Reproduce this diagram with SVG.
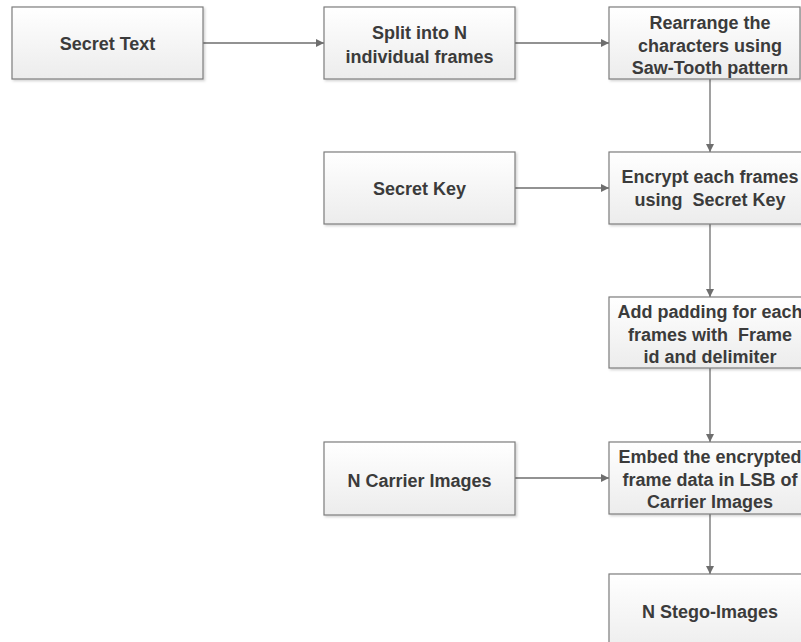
<svg xmlns="http://www.w3.org/2000/svg" width="801" height="642" viewBox="0 0 801 642">
  <defs>
    <linearGradient id="boxFill" x1="0" y1="0" x2="0" y2="1">
      <stop offset="0" stop-color="#ffffff"/>
      <stop offset="1" stop-color="#ececec"/>
    </linearGradient>
    <filter id="shadow" x="-5%" y="-5%" width="115%" height="120%">
      <feDropShadow dx="1.5" dy="1.5" stdDeviation="1" flood-color="#000" flood-opacity="0.18"/>
    </filter>
    <marker id="arrow" viewBox="0 0 8 8" refX="8" refY="4" markerWidth="8" markerHeight="8" markerUnits="userSpaceOnUse" orient="auto">
      <path d="M0,0 L8,4 L0,8 Z" fill="#6e6e6e"/>
    </marker>
  </defs>
  <style>
    .box { fill: url(#boxFill); stroke: #7d7d7d; stroke-width: 1.2; filter: url(#shadow); }
    .lbl { font-family: "Liberation Sans", Arial, sans-serif; font-weight: bold; font-size: 18px; fill: #3b3b3b; text-anchor: middle; white-space: pre; }
    .conn { stroke: #6e6e6e; stroke-width: 1.3; fill: none; marker-end: url(#arrow); }
  </style>
  <rect width="801" height="642" fill="#ffffff"/>

  <g id="connectors">
    <line class="conn" x1="203" y1="43" x2="324" y2="43"/>
    <line class="conn" x1="515" y1="43" x2="609" y2="43"/>
    <line class="conn" x1="710" y1="79" x2="710" y2="152"/>
    <line class="conn" x1="515" y1="188" x2="609" y2="188"/>
    <line class="conn" x1="710" y1="224" x2="710" y2="297"/>
    <line class="conn" x1="710" y1="368" x2="710" y2="442"/>
    <line class="conn" x1="515" y1="478" x2="609" y2="478"/>
    <line class="conn" x1="710" y1="514" x2="710" y2="574"/>
  </g>

  <g id="secret-text">
    <rect class="box" x="12" y="7" width="191" height="72"/>
    <text class="lbl" x="107.5" y="50">Secret Text</text>
  </g>
  <g id="split-frames">
    <rect class="box" x="324" y="7" width="191" height="72"/>
    <text class="lbl" x="419.5" y="39">Split into N</text>
    <text class="lbl" x="419.5" y="62.5">individual frames</text>
  </g>
  <g id="rearrange">
    <rect class="box" x="609" y="7" width="191" height="72"/>
    <text class="lbl" x="710" y="29">Rearrange the</text>
    <text class="lbl" x="710" y="51.5">characters using</text>
    <text class="lbl" x="710" y="74">Saw-Tooth pattern</text>
  </g>
  <g id="secret-key">
    <rect class="box" x="324" y="152" width="191" height="72"/>
    <text class="lbl" x="419.5" y="195">Secret Key</text>
  </g>
  <g id="encrypt">
    <rect class="box" x="609" y="152" width="200" height="72"/>
    <text class="lbl" x="710" y="183">Encrypt each frames</text>
    <text class="lbl" x="710" y="206" xml:space="preserve">using  Secret Key</text>
  </g>
  <g id="padding">
    <rect class="box" x="609" y="297" width="200" height="71"/>
    <text class="lbl" x="710" y="318">Add padding for each</text>
    <text class="lbl" x="710" y="341" xml:space="preserve">frames with  Frame</text>
    <text class="lbl" x="710" y="363">id and delimiter</text>
  </g>
  <g id="carrier-images">
    <rect class="box" x="324" y="442" width="191" height="73"/>
    <text class="lbl" x="419.5" y="487">N Carrier Images</text>
  </g>
  <g id="embed">
    <rect class="box" x="609" y="442" width="200" height="72"/>
    <text class="lbl" x="710" y="463">Embed the encrypted</text>
    <text class="lbl" x="710" y="486">frame data in LSB of</text>
    <text class="lbl" x="710" y="508">Carrier Images</text>
  </g>
  <g id="stego-images">
    <rect class="box" x="609" y="574" width="200" height="80"/>
    <text class="lbl" x="710" y="618">N Stego-Images</text>
  </g>
</svg>
